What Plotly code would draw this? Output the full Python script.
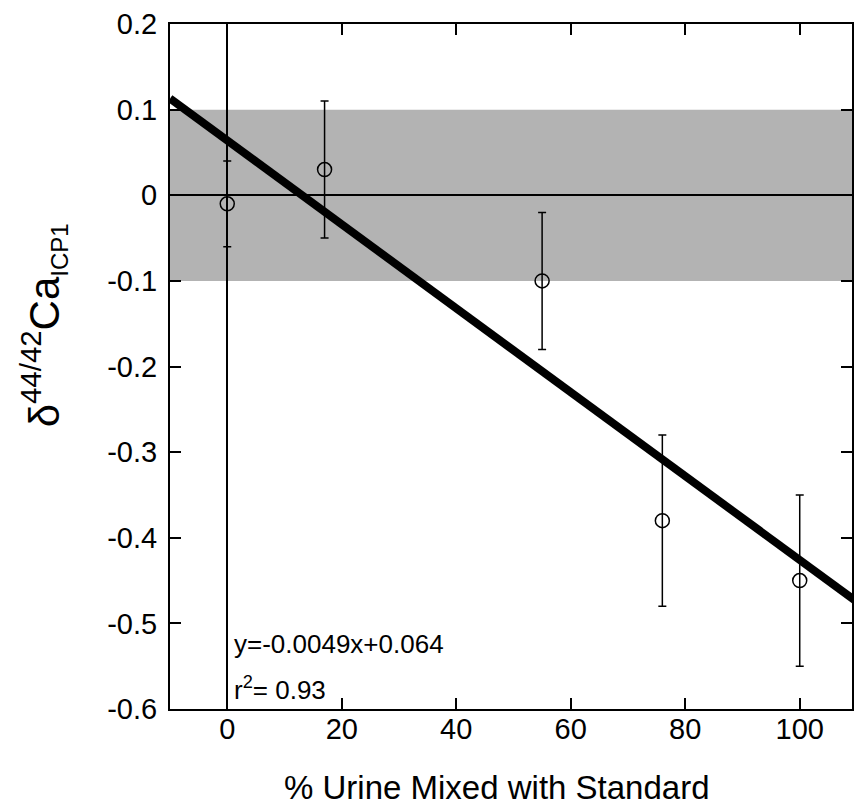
import plotly.graph_objects as go

# ---- data ----
pct_urine = [0, 17, 55, 76, 100]
delta_ca = [-0.01, 0.03, -0.10, -0.38, -0.45]
delta_err = [0.05, 0.08, 0.08, 0.10, 0.10]

fit_slope = -0.0049
fit_intercept = 0.064
fit_x = [-10, 110]
fit_y = [fit_slope * x + fit_intercept for x in fit_x]

band_low, band_high = -0.1, 0.1

x_tickvals = [0, 20, 40, 60, 80, 100]
x_ticktext = ["0", "20", "40", "60", "80", "100"]
y_tickvals = [0.2, 0.1, 0, -0.1, -0.2, -0.3, -0.4, -0.5, -0.6]
y_ticktext = ["0.2", "0.1", "0", "-0.1", "-0.2", "-0.3", "-0.4", "-0.5", "-0.6"]

FONT = "Arial, Liberation Sans, Helvetica, sans-serif"

fig = go.Figure()

fig.add_trace(go.Scatter(
    x=fit_x, y=fit_y, mode="lines",
    line=dict(color="black", width=8),
    hoverinfo="skip", showlegend=False,
))

fig.add_trace(go.Scatter(
    x=pct_urine, y=delta_ca, mode="markers",
    marker=dict(symbol="circle-open", size=14, color="black",
                line=dict(color="black", width=1.5)),
    error_y=dict(type="data", array=delta_err, visible=True,
                 color="black", thickness=1.5, width=4),
    showlegend=False,
))

fig.add_shape(type="rect", xref="paper", yref="y", x0=0, x1=1,
              y0=band_low, y1=band_high, fillcolor="#b3b3b3",
              line=dict(width=0), layer="below")

fig.update_xaxes(
    range=[-10, 109.13], tickvals=x_tickvals, ticktext=x_ticktext,
    ticks="inside", ticklen=11, tickwidth=1.5, tickcolor="black",
    showline=True, linewidth=2, linecolor="black", mirror="ticks",
    showgrid=False, zeroline=True, zerolinecolor="black", zerolinewidth=1.5,
    tickfont=dict(family=FONT, size=29, color="black"),
    ticklabelstandoff=-7,
)
fig.update_yaxes(
    range=[-0.6, 0.2], tickvals=y_tickvals, ticktext=y_ticktext,
    ticks="inside", ticklen=11, tickwidth=1.5, tickcolor="black",
    showline=True, linewidth=2, linecolor="black", mirror="ticks",
    showgrid=False, zeroline=True, zerolinecolor="black", zerolinewidth=1.5,
    tickfont=dict(family=FONT, size=29, color="black"),
    ticklabelstandoff=5,
)

fig.add_annotation(
    text="% Urine Mixed with Standard", xref="paper", yref="paper",
    x=(497.5 - 170) / 684, y=(709 - 808) / 685, xanchor="center", yanchor="bottom",
    showarrow=False, font=dict(family=FONT, size=33, color="black"),
)
fig.add_annotation(
    text="δ<sup>44/42</sup>Ca<sub><span style='font-size:24px'>ICP1</span></sub>",
    xref="paper", yref="paper", textangle=-90,
    x=(43 - 170) / 684, y=(709 - 325) / 685, xanchor="center", yanchor="middle",
    showarrow=False, font=dict(family=FONT, size=42, color="black"),
)
fig.add_annotation(
    text="y=-0.0049x+0.064", xref="x", yref="paper",
    x=0.8, y=(709 - 656) / 685, xanchor="left", yanchor="bottom", yshift=-5,
    showarrow=False, font=dict(family=FONT, size=26, color="black"),
)
fig.add_annotation(
    text="r<sup>2</sup>= 0.93", xref="x", yref="paper",
    x=0.8, y=(709 - 702) / 685, xanchor="left", yanchor="bottom", yshift=-5,
    showarrow=False, font=dict(family=FONT, size=26, color="black"),
)

fig.update_layout(
    width=854, height=809,
    margin=dict(l=170, r=0, t=24, b=100, pad=0),
    paper_bgcolor="white", plot_bgcolor="rgba(0,0,0,0)",
    font=dict(family=FONT, color="black"),
)

fig.write_html("out.html")
